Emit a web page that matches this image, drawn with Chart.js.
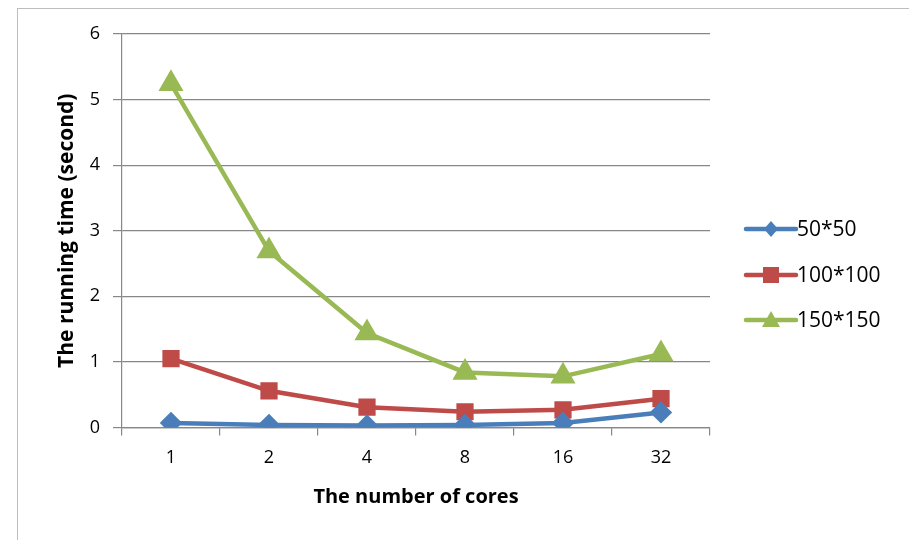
<!DOCTYPE html>
<html>
<head>
<meta charset="utf-8">
<script src="https://cdn.jsdelivr.net/npm/chart.js@4"></script>
<style>
  html, body { margin: 0; padding: 0; background: #fff; }
  #wrap { width: 909px; height: 540px; }
</style>
</head>
<body>
<div id="wrap"><canvas id="chart" width="909" height="540"></canvas></div>
<script>
// cores on the x axis
const cores = ['1', '2', '4', '8', '16', '32'];
// running time (second) per matrix size
const time50 = [0.07, 0.04, 0.03, 0.04, 0.07, 0.23];
const time100 = [1.05, 0.56, 0.31, 0.24, 0.27, 0.44];
const time150 = [5.24, 2.69, 1.44, 0.84, 0.78, 1.12];
const seriesNames = ['50*50', '100*100', '150*150'];
const yTicks = [0, 1, 2, 3, 4, 5, 6];

const fontFam = '"Open Sans", Lato, sans-serif';

// frame around the chart + legend drawn like the office one (line with marker)
const frameLegend = {
  id: 'frameLegend',
  beforeDraw(chart) {
    const ctx = chart.ctx;
    ctx.save();
    ctx.fillStyle = '#fff';
    ctx.fillRect(0, 0, chart.width, chart.height);
    ctx.strokeStyle = '#bdbdbd';
    ctx.lineWidth = 1;
    ctx.strokeRect(17.5, 8.5, 1000, 1000);
    ctx.restore();
  },
  afterDraw(chart) {
    const ctx = chart.ctx;
    const x0 = 746, x1 = 796;
    const ys = [229, 275, 320];
    ctx.save();
    chart.data.datasets.forEach((ds, i) => {
      const y = ys[i];
      ctx.strokeStyle = ds.borderColor;
      ctx.lineWidth = 4.5;
      ctx.lineCap = 'round';
      ctx.beginPath();
      ctx.moveTo(x0, y);
      ctx.lineTo(x1, y);
      ctx.stroke();
      ctx.fillStyle = ds.pointBackgroundColor;
      const cx = (x0 + x1) / 2;
      ctx.beginPath();
      if (ds.pointStyle === 'rectRot') {
        ctx.moveTo(cx, y - 8); ctx.lineTo(cx + 7, y); ctx.lineTo(cx, y + 8); ctx.lineTo(cx - 7, y);
      } else if (ds.pointStyle === 'rect') {
        ctx.rect(cx - 8, y - 8, 16, 16);
      } else {
        ctx.moveTo(cx, y - 9); ctx.lineTo(cx + 9, y + 7); ctx.lineTo(cx - 9, y + 7);
      }
      ctx.closePath();
      ctx.fill();
      ctx.fillStyle = '#000';
      ctx.font = '21px ' + fontFam;
      ctx.textBaseline = 'middle';
      ctx.textAlign = 'left';
      ctx.fillText(ds.label, x1 + 1, y + 1);
    });
    ctx.restore();
  }
};

new Chart(document.getElementById('chart'), {
  type: 'line',
  data: {
    labels: cores,
    datasets: [
      {
        label: seriesNames[0],
        data: time50,
        borderColor: '#4a7ebb',
        backgroundColor: '#4a7ebb',
        pointBackgroundColor: '#4a7ebb',
        pointBorderColor: '#4a7ebb',
        pointStyle: 'rectRot',
        pointRadius: 8,
        borderWidth: 4.5
      },
      {
        label: seriesNames[1],
        data: time100,
        borderColor: '#be4b48',
        backgroundColor: '#be4b48',
        pointBackgroundColor: '#be4b48',
        pointBorderColor: '#be4b48',
        pointStyle: 'rect',
        pointRadius: 9,
        borderWidth: 4.5
      },
      {
        label: seriesNames[2],
        data: time150,
        borderColor: '#98b954',
        backgroundColor: '#98b954',
        pointBackgroundColor: '#98b954',
        pointBorderColor: '#98b954',
        pointStyle: 'triangle',
        pointRadius: 10,
        borderWidth: 4.5
      }
    ]
  },
  options: {
    responsive: false,
    animation: false,
    layout: { padding: { top: 34, right: 199, bottom: 31, left: 54 } },
    plugins: {
      legend: { display: false },
      tooltip: { enabled: false }
    },
    scales: {
      x: {
        offset: true,
        afterFit(axis) { axis.height = 81.5; },
        grid: { offset: true, drawOnChartArea: false, color: '#878787', tickLength: 8, lineWidth: 1.2 },
        border: { color: '#878787', width: 1.2 },
        ticks: { color: '#000', font: { family: fontFam, size: 18 }, padding: 12 },
        title: { display: true, text: 'The number of cores', color: '#000', font: { family: fontFam, size: 20, weight: 'bold' }, padding: 0 }
      },
      y: {
        min: 0,
        max: 6,
        afterFit(axis) { axis.width = 68; },
        afterBuildTicks(axis) { axis.ticks = yTicks.map(v => ({ value: v })); },
        grid: { color: '#878787', tickLength: 9, lineWidth: 1.2 },
        border: { color: '#878787', width: 1.2 },
        ticks: { color: '#000', font: { family: fontFam, size: 18 }, padding: 13 },
        title: { display: true, text: 'The running time (second)', color: '#000', font: { family: fontFam, size: 21, weight: 'bold' }, padding: 0 }
      }
    }
  },
  plugins: [frameLegend]
});
</script>
</body>
</html>
